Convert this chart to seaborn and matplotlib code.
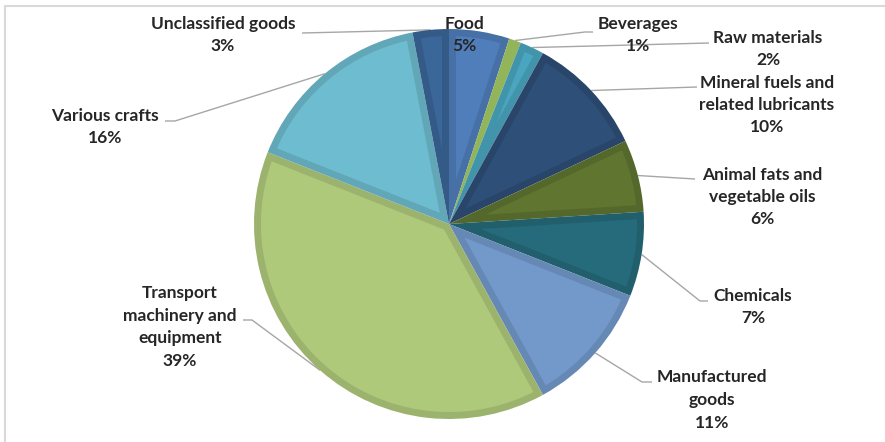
import matplotlib
matplotlib.use("Agg")
import matplotlib.pyplot as plt
import matplotlib.colors as mcolors
from matplotlib.patches import Polygon
import numpy as np
import seaborn as sns

# ---- data ----
categories = ["Food", "Beverages", "Raw materials",
              "Mineral fuels and related lubricants",
              "Animal fats and vegetable oils", "Chemicals",
              "Manufactured goods", "Transport machinery and equipment",
              "Various crafts", "Unclassified goods"]
shares = [5, 1, 2, 10, 6, 7, 11, 39, 16, 3]
label_texts = ["Food", "Beverages", "Raw materials",
               "Mineral fuels and\nrelated lubricants",
               "Animal fats and\nvegetable oils", "Chemicals",
               "Manufactured\ngoods", "Transport\nmachinery and\nequipment",
               "Various crafts", "Unclassified goods"]

# ---- styles ----
face_colors = ["#4F7EBB", "#93B55A", "#4AA6C0", "#2E4F77", "#5F7530",
               "#266B7B", "#7399CB", "#AFC97B", "#6EBCCF", "#3A6699"]
edge_colors = [mcolors.to_hex(np.array(mcolors.to_rgb(c)) * 0.89) for c in face_colors]

sns.set_theme(style="white")
plt.rcParams['font.family'] = ['Lato', 'DejaVu Sans']

W, H = 885, 442
def P(x, y):
    return (x, H - y)

fig = plt.figure(figsize=(W / 100, H / 100), dpi=100)
ax = fig.add_axes([0, 0, 1, 1])

cx, cy = P(449, 224)
R = 195
B = 7  # inner border width (px)
wedges, _ = ax.pie(shares, colors=edge_colors, startangle=90, counterclock=False,
                   radius=R, center=(cx, cy), wedgeprops=dict(linewidth=0))

# lighter inset of every wedge, derived from the wedge's own angles
for w, fc in zip(wedges, face_colors):
    t1, t2 = np.deg2rad(w.theta1), np.deg2rad(w.theta2)
    half = (t2 - t1) / 2
    mid = (t1 + t2) / 2
    r_in = R - B
    d = B / np.sin(half)
    if d >= r_in * 0.95:
        w.set_facecolor(fc)
        continue
    A = np.array([cx, cy]) + d * np.array([np.cos(mid), np.sin(mid)])
    C = np.array([cx, cy])
    ends = []
    for t in (t1, t2):
        u = np.array([np.cos(t), np.sin(t)])
        v = A - C
        bq = 2 * np.dot(u, v)
        cq = np.dot(v, v) - r_in ** 2
        s = (-bq + np.sqrt(bq ** 2 - 4 * cq)) / 2
        ends.append(A + s * u)
    a1 = np.arctan2(ends[0][1] - cy, ends[0][0] - cx)
    a2 = np.arctan2(ends[1][1] - cy, ends[1][0] - cx)
    while a2 < a1:
        a2 += 2 * np.pi
    arc_t = np.linspace(a1, a2, 120)
    arc = np.column_stack([cx + r_in * np.cos(arc_t), cy + r_in * np.sin(arc_t)])
    poly = np.vstack([A, arc])
    ax.add_patch(Polygon(poly, closed=True, facecolor=fc, edgecolor='none', zorder=w.get_zorder() + 0.1))

# label layout (pixel positions, block centers)
text_pos = [(464, 35), (638, 35), (768, 49), (767, 105), (762, 197),
            (753, 307), (712, 400), (180, 327), (105, 127), (223, 35)]
leaders = [None,
           [(585, 32), (593, 32)],
           [(709, 43)],
           [(697, 87)],
           [(695, 179)],
           [(700, 301), (708, 301)],
           [(642, 382), (652, 382)],
           [(252, 320), (243, 320)],
           [(175, 121), (165, 121)],
           [(302, 33)]]

for i, w in enumerate(wedges):
    ang = np.deg2rad((w.theta1 + w.theta2) / 2)
    ax_, ay_ = cx + R * np.cos(ang), cy + R * np.sin(ang)
    if leaders[i] is not None:
        pts = [(ax_, ay_)] + [P(*p) for p in leaders[i]]
        xs, ys = zip(*pts)
        ax.plot(xs, ys, color="#A6A6A6", lw=1.0, zorder=0.5, solid_capstyle='butt')
    tx, ty = P(*text_pos[i])
    ax.text(tx, ty, f"{label_texts[i]}\n{shares[i]}%", ha='center', va='center',
            multialignment='center', fontsize=12.5, fontweight='bold',
            color="#262626", linespacing=1.5, zorder=5)

# frame (top & left border)
ax.plot([5, 885], [H - 6, H - 6], color="#D9D9D9", lw=1.5, zorder=0)
ax.plot([5, 5], [H - 6, 0], color="#D9D9D9", lw=1.5, zorder=0)

ax.set_xlim(0, W)
ax.set_ylim(0, H)
ax.set_aspect('auto')
ax.axis('off')

fig.savefig("out.png", dpi=100, facecolor="white")
